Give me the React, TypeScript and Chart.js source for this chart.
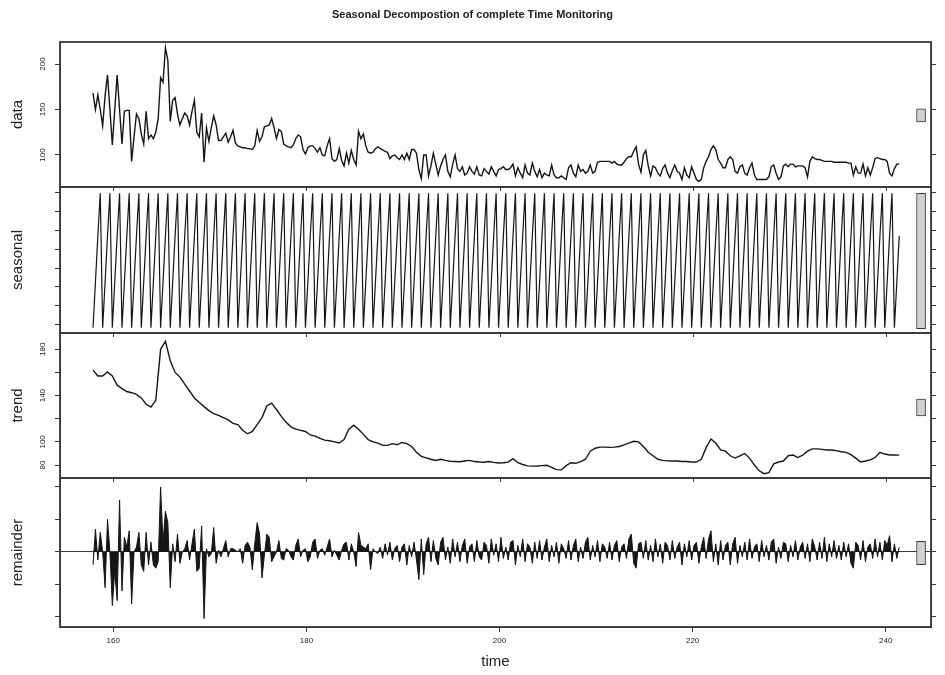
import React, { useEffect, useRef } from 'react';
import { Chart, registerables } from 'chart.js';

Chart.register(...registerables);

// ---- time grid of the series ----
const T0 = 157.9;          // first observation time
const STEP = 0.25;         // spacing of data / seasonal / remainder observations
const TREND_STEP = 0.5;    // spacing of the trend readings

// one seasonal cycle (repeats every time unit)
const seasonalCycle = [-6.3, -1.5, 3.4, 7.9];

const dataValues = [
  168, 150, 166, 150, 132, 165, 188, 150, 111, 150,
  188, 150, 112, 148, 149, 149, 93, 120, 145, 140,
  123, 112, 148, 118, 122, 118, 125, 140, 185, 180,
  218, 204, 137, 160, 163, 145, 133, 140, 146, 143,
  133, 148, 160, 125, 120, 146, 92, 130, 115, 130,
  143, 133, 116, 116, 120, 124, 114, 120, 127, 113,
  110, 109, 108, 108, 107, 107, 106, 110, 127, 115,
  120, 131, 132, 133, 140, 130, 118, 128, 126, 112,
  110, 109, 108, 111, 118, 122, 120, 106, 101, 108,
  110, 110, 107, 103, 108, 100, 99, 110, 118, 96,
  93, 95, 107, 94, 88, 102, 91, 105, 95, 89,
  126, 118, 123, 110, 103, 102, 103, 107, 109,
  107, 105.5, 104, 103, 96, 99, 100, 97, 95, 100,
  95, 102, 95, 106, 106, 102, 84, 74, 100, 100,
  77, 88, 102, 90, 78, 88, 95, 100, 82, 76,
  90, 100, 85, 82, 87, 78, 80, 87, 82, 79,
  87, 78, 77, 85, 82, 79, 87, 82, 77, 84,
  85, 87, 84, 84, 86, 90, 77, 86, 80, 75,
  89, 80, 78, 91, 82, 76, 84, 75, 80, 78,
  77, 89, 78, 75, 75, 77, 75, 73, 86, 89,
  80, 76, 89, 82, 84, 80, 82, 89, 80, 82,
  92, 93, 93, 93, 93, 93, 91, 93, 90, 89,
  89, 92, 96, 98, 98, 104, 109, 90, 81, 100,
  105, 88, 77, 88, 86, 80, 77, 85, 89, 80,
  75, 83, 89, 82,
  80, 73, 86, 78, 75, 87, 80, 73, 71, 73,
  86, 93, 98, 106, 110, 106, 95, 91, 86, 86,
  95, 98, 95, 82, 80, 87, 89, 80, 78, 86,
  91, 78, 73, 73, 73, 73, 73, 76, 87, 89,
  80, 73, 76, 88, 90, 87, 90, 90, 87, 88,
  88, 88, 86, 76, 93, 98, 96, 95, 95, 94,
  93, 93, 93, 93, 92, 92, 92, 92, 92, 92,
  91, 91, 78, 87, 80, 80, 90,
  77, 86, 78, 86, 96, 97, 96, 95, 95, 93, 80, 77, 85, 90, 90,
];

const trendValues = [
  162, 157, 157, 160.5, 157, 149, 146, 143.5, 142.5, 141,
  138, 132.5, 130, 136, 180, 187, 170, 160, 156, 150,
  144, 138, 134, 130.5, 127, 124.5, 123, 121, 119, 116,
  115, 110, 107, 109, 115, 121, 131, 133.5, 128, 122,
  117, 113, 111, 110, 109, 106, 105, 103, 101.5, 101,
  100, 99, 102, 111, 114.5, 111, 106.5, 102, 100, 99,
  97, 97, 98.5, 97.5, 99.5, 98.5, 96, 91, 87.5, 86.2,
  85, 84, 85, 84, 83.2, 83, 82.8, 83.5, 84, 83,
  82.6, 82.4, 83, 82.3, 81.8, 82, 82.5, 85.5, 82, 80.5,
  79.3, 79.1, 79.2, 79.5, 79.8, 78, 76, 75.8, 79.5, 82,
  81.5, 83, 85, 92, 94.5, 95.5, 95.5, 95.3, 95.5, 96,
  97.5, 99, 100.5, 100, 96, 91, 88, 85, 84, 83.6,
  83.5, 83.5, 83, 83, 82.6, 82.6, 85, 95, 102.5, 99,
  93, 92, 88, 86, 88, 90, 86, 80, 75, 72.5,
  73.5, 81, 82.6, 83.5, 88, 88.6, 86.5, 88.5, 92, 94,
  94, 93.5, 93, 93, 92.5, 91.5, 91, 89, 86, 82.6,
  83.5, 84.5, 86.5, 91, 89.5, 88.7, 88.7, 88.6,
];

const remainderValues = [
  -8, 14, -5, 12, 0, -22, 20, 0, -33, -12,
  -30, 32, -24, 9, 3, 13, -32, 0, 3, 12,
  -8, -12, 12, -8, 6, -8, -10, -6, 40, 6,
  25, 18, -22, 5, -6, 11, -7, 0, 2, 7,
  -5, 5, 14, -12, -10, 16, -41, 2, -3, -1,
  15, -7, 1, -3, 2, 7, -3, 2, 2, 1,
  0, 2, -7, 4, 6, 3, -11, 5, 18, 11,
  -16, -2, 11, 9, -6, -3, 0, 7, -4, -5,
  2, 1, -3, -5, 4, 8, -3, 1, 2, -6,
  -3, 6, 8, -4, 1, 2, -2, 3, 8, -3,
  1, -2, -5, 1, 5, 6, -5, 5, 0, -9,
  12, 4, 3, 2, 5, -11, 2, 0, -1,
  3, -4, 5, -2, 6, -5, 2, 4, -6, 3, 5, -8, 4, -3, 6, -5,
  -17, 8, -14, 5, 9, -6, 7, -4, -8, 6, 9, -5, 3, -7, 8, -3,
  6, -6, 4, 8, -7, 3, 5, -6, 7, -3, -5, 6, 4, -7, 8, -2,
  5, -6, 9, -4, 3, -5, 6, 7, -8, 4, -3, 8, -6, 5, 3, -7,
  6, -4, 7, -5, 3, 8, -6, 4, -3, 6, -7, 5, 2, -4, 7, -5,
  4, 8, -6, 3, -4, 6, 9, -5, 4, -3, 7, -6, 5, 3, -4, 6,
  -5, 4, 7, -6, 3, 5, -4, 8, 11, -7, -10, 5, 6, -4, 7, -5,
  4, -6, 8, -3, 5, -7, 6, 4, -5, 7, -4, 3, 6, -8, 5, -3,
  7, -5, 4, 6, -7, 3, 9, -4, 8, 13, -6, 5, -8, 7, -5, 4,
  6, -8, 5, 9, -7, 4, -3, 6, -5, 8, -4, 3, 5, -6, 7, -3,
  4, -5, 6, 8, -7, 3, -4, 6, 5, -6, 4, -3, 7, -5, 3, 6,
  -4, 5, -6, 8, 3, -5, 6, -4, 9, -6, 5, -3, 7, -4, 4, -5,
  6, -3, 5, -7, -10, 6, 4, -5, 7, -6, 3, 5, -4, 8, -3, 6,
  -5, 7, 4, 10, -6, 5, -4, 3,
];

// range bars (same length in every panel)
const RANGE_BAR_T = 243.66;
const dataRangeBar = [136.4, 150.8];
const seasonalRangeBar = [-6.4, 7.9];
const trendRangeBar = [122.5, 136.9];
const remainderRangeBar = [-7.9, 6.6];

// ticks
const xTicks = [160, 180, 200, 220, 240];
const dataTicks = [100, 150, 200];
const seasonalTicks = [-6, -4, -2, 0, 2, 4, 6, 8];
const trendTicks = [80, 100, 120, 140, 160, 180];
const trendTickLabels = [80, 100, 140, 180];
const remainderTicks = [-40, -20, 0, 20, 40];

// axis ranges
const X_MIN = 154.48;
const X_MAX = 244.69;
const DATA_RANGE = [64.8, 224.2];
const SEASONAL_RANGE = [-6.86, 8.56];
const TREND_RANGE = [68.8, 194.1];
const REMAINDER_RANGE = [-46.2, 45.5];

const FONT = "'Liberation Sans', Arial, Helvetica, sans-serif";
const INK = '#161616';
const FRAME = '#3a3a3a';
const TEXT = '#222222';

const points = (vals: number[], t0: number, step: number) =>
  vals.map((v, i) => ({ x: t0 + i * step, y: v }));

const fixedTicks = (vals: number[]) => (s: any) => {
  s.ticks = vals.map((v) => ({ value: v }));
};

function leftAxis(title: string, range: number[], ticks: number[], labels: number[], weight: number, stackWeight: number, extraGrid: any = {}) {
  return {
    type: 'linear',
    position: 'left',
    stack: 'L',
    stackWeight,
    weight,
    min: range[0],
    max: range[1],
    offset: false,
    beginAtZero: false,
    afterBuildTicks: fixedTicks(ticks),
    afterFit: (s: any) => { s.width = 60; },
    border: { display: true, color: FRAME, width: 1 },
    grid: { drawOnChartArea: false, drawTicks: true, tickLength: 5, tickColor: FRAME, tickWidth: 1, ...extraGrid },
    ticks: {
      autoSkip: false,
      font: { size: 8, family: FONT },
      color: TEXT,
      minRotation: 90,
      maxRotation: 90,
      crossAlign: 'center',
      padding: 5.6,
      callback: (v: any) => (labels.includes(v) ? String(v) : ''),
    },
    title: {
      display: true,
      text: title,
      font: { size: 15, family: FONT },
      color: TEXT,
      padding: { top: 9, bottom: 0 },
    },
  };
}

function rightAxis(range: number[], ticks: number[], weight: number, stackWeight: number) {
  return {
    type: 'linear',
    position: 'right',
    stack: 'R',
    stackWeight,
    weight,
    min: range[0],
    max: range[1],
    offset: false,
    beginAtZero: false,
    afterBuildTicks: fixedTicks(ticks),
    afterFit: (s: any) => { s.width = 14; },
    border: { display: true, color: FRAME, width: 1 },
    grid: { drawOnChartArea: false, drawTicks: true, tickLength: 5, tickColor: FRAME, tickWidth: 1 },
    ticks: { autoSkip: false, font: { size: 8, family: FONT }, callback: () => '' },
  };
}

const panelIds = ['yData', 'ySeasonal', 'yTrend', 'yRemainder'];

const panelFrame = {
  id: 'panelFrame',
  afterDraw(chart: any) {
    const ctx = chart.ctx;
    const { left, right } = chart.chartArea;
    ctx.save();
    ctx.strokeStyle = FRAME;
    ctx.lineWidth = 1.8;
    for (const id of panelIds) {
      const s = chart.scales[id];
      ctx.strokeRect(left, s.top, right - left, s.bottom - s.top);
    }
    const xs = chart.scales.x;
    ctx.lineWidth = 1;
    for (const id of panelIds.slice(0, 3)) {
      const yb = chart.scales[id].bottom;
      for (const v of xTicks) {
        const px = Math.round(xs.getPixelForValue(v)) + 0.5;
        ctx.beginPath();
        ctx.moveTo(px, yb);
        ctx.lineTo(px, yb + 4);
        ctx.stroke();
      }
    }
    ctx.restore();
  },
};

function rangeBar(range: number[], yAxisID: string) {
  return {
    type: 'bar',
    data: [{ x: RANGE_BAR_T, y: range }],
    xAxisID: 'x',
    yAxisID,
    grouped: false,
    barThickness: 9,
    backgroundColor: '#d0d0d0',
    borderColor: '#3a3a3a',
    borderWidth: 1,
    borderSkipped: false,
  };
}

function lineSet(pts: any[], yAxisID: string, extra: any = {}) {
  return {
    type: 'line',
    data: pts,
    xAxisID: 'x',
    yAxisID,
    borderColor: INK,
    borderWidth: 1.4,
    pointRadius: 0,
    pointHoverRadius: 0,
    tension: 0,
    fill: false,
    ...extra,
  };
}

export default function App() {
  const ref = useRef<HTMLCanvasElement>(null);

  useEffect(() => {
    const canvas = ref.current;
    if (!canvas) return;
    Chart.defaults.font.family = FONT;

    const seasonalPts = dataValues.map((_, i) => ({
      x: T0 + i * STEP,
      y: seasonalCycle[i % seasonalCycle.length],
    }));

    const chart = new Chart(canvas, {
      type: 'line',
      data: {
        datasets: [
          lineSet(points(dataValues, T0, STEP), 'yData'),
          lineSet(seasonalPts, 'ySeasonal', { borderWidth: 1.2 }),
          lineSet(points(trendValues, T0, TREND_STEP), 'yTrend', { borderWidth: 1.4 }),
          lineSet(points(remainderValues, T0, STEP), 'yRemainder', {
            borderWidth: 1,
            fill: 'origin',
            backgroundColor: INK,
          }),
          rangeBar(dataRangeBar, 'yData'),
          rangeBar(seasonalRangeBar, 'ySeasonal'),
          rangeBar(trendRangeBar, 'yTrend'),
          rangeBar(remainderRangeBar, 'yRemainder'),
        ] as any,
      },
      options: {
        responsive: false,
        maintainAspectRatio: false,
        animation: false,
        devicePixelRatio: 1,
        events: [],
        layout: { padding: 0 },
        plugins: {
          legend: { display: false },
          tooltip: { enabled: false },
          title: {
            display: true,
            text: 'Seasonal Decompostion of complete Time Monitoring',
            font: { size: 11, weight: 'bold', family: FONT },
            color: TEXT,
            padding: { top: 8.4, bottom: 20.4 },
          },
        },
        scales: {
          x: {
            type: 'linear',
            position: 'bottom',
            min: X_MIN,
            max: X_MAX,
            offset: false,
            afterBuildTicks: fixedTicks(xTicks),
            afterFit: (s: any) => { s.height = 48; },
            border: { display: true, color: FRAME, width: 1 },
            grid: { drawOnChartArea: false, offset: false, tickLength: 5, tickColor: FRAME, tickWidth: 1 },
            ticks: {
              autoSkip: false,
              maxRotation: 0,
              font: { size: 8, family: FONT },
              color: TEXT,
              padding: 4,
              callback: (v: any) => String(v),
            },
            title: {
              display: true,
              text: 'time',
              font: { size: 15, family: FONT },
              color: TEXT,
              padding: { top: 0, bottom: 4 },
            },
          },
          yData: leftAxis('data', DATA_RANGE, dataTicks, dataTicks, 4, 145),
          ySeasonal: leftAxis('seasonal', SEASONAL_RANGE, seasonalTicks, [], 3, 146),
          yTrend: leftAxis('trend', TREND_RANGE, trendTicks, trendTickLabels, 2, 145),
          yRemainder: leftAxis('remainder', REMAINDER_RANGE, remainderTicks, [], 1, 149, {
            drawOnChartArea: true,
            color: (c: any) => (c.tick && c.tick.value === 0 ? FRAME : 'rgba(0,0,0,0)'),
            lineWidth: 1,
          }),
          yDataR: rightAxis(DATA_RANGE, dataTicks, 1, 145),
          ySeasonalR: rightAxis(SEASONAL_RANGE, seasonalTicks, 2, 146),
          yTrendR: rightAxis(TREND_RANGE, trendTicks, 3, 145),
          yRemainderR: rightAxis(REMAINDER_RANGE, remainderTicks, 4, 149),
        } as any,
      },
      plugins: [panelFrame],
    } as any);

    return () => chart.destroy();
  }, []);

  return (
    <div style={{ position: 'absolute', left: 0, top: 0, width: 945, height: 675, background: '#ffffff' }}>
      <canvas ref={ref} width={945} height={675} style={{ display: 'block', width: 945, height: 675 }} />
    </div>
  );
}
